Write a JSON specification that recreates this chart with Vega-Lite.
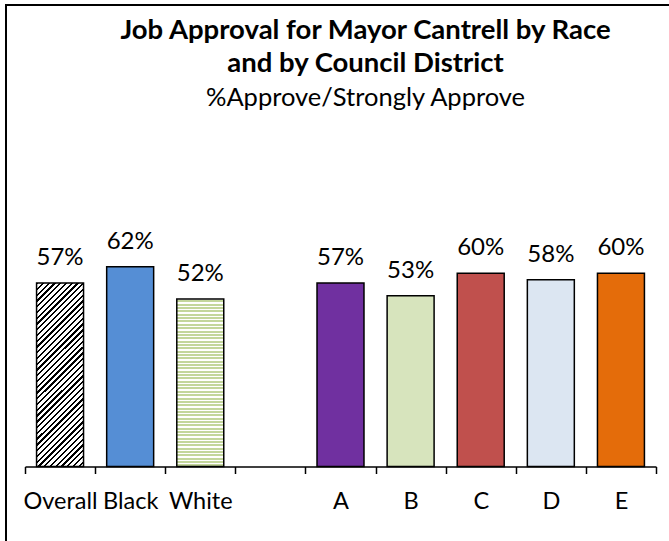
{
  "$schema": "https://vega.github.io/schema/vega-lite/v6.json",
  "width": 665,
  "height": 538,
  "autosize": "none",
  "padding": {"left": 6, "top": 5, "right": -2, "bottom": -2},
  "background": "#ffffff",
  "config": {"view": {"stroke": "#000000", "strokeWidth": 2}, "font": "Lato"},
  "title": {
    "text": ["Job Approval for Mayor Cantrell by Race", "and by Council District"],
    "subtitle": "%Approve/Strongly Approve",
    "anchor": "middle",
    "frame": "group",
    "orient": "top",
    "offset": -106,
    "dx": 27,
    "font": "Lato",
    "fontSize": 27.5,
    "fontWeight": "bold",
    "color": "#000000",
    "lineHeight": 33,
    "subtitleFont": "Lato",
    "subtitleFontSize": 25.5,
    "subtitleColor": "#000000",
    "subtitlePadding": 8
  },
  "data": {
    "values": [
      {"group": "Overall", "pct": 0.57},
      {"group": "Black", "pct": 0.62},
      {"group": "White", "pct": 0.52},
      {"group": "A", "pct": 0.57},
      {"group": "B", "pct": 0.53},
      {"group": "C", "pct": 0.60},
      {"group": "D", "pct": 0.58},
      {"group": "E", "pct": 0.60}
    ]
  },
  "encoding": {
    "x": {
      "field": "group",
      "type": "nominal",
      "scale": {
        "domain": ["Overall", "Black", "White", " ", "A", "B", "C", "D", "E"],
        "range": [19, 650],
        "paddingInner": 0,
        "paddingOuter": 0
      },
      "axis": {
        "title": null,
        "labelAngle": 0,
        "labelFont": "Lato",
        "labelFontSize": 23.5,
        "labelColor": "#000000",
        "labelPadding": 16,
        "labelOverlap": false,
        "labelBound": false,
        "domainColor": "#000000",
        "domainWidth": 1.5,
        "tickColor": "#000000",
        "tickWidth": 1.5,
        "tickSize": 7,
        "tickBand": "extent",
        "offset": -76.5
      }
    },
    "y": {
      "field": "pct",
      "type": "quantitative",
      "scale": {"domain": [-0.2376, 1.4332], "nice": false, "zero": false},
      "axis": null
    }
  },
  "layer": [
    {
      "transform": [{"filter": "datum.group === 'Overall'"}],
      "mark": {
        "type": "bar",
        "width": {"band": 0.67},
        "stroke": "#000000",
        "strokeWidth": 1.5,
        "fill": {
          "gradient": "linear", "x1": 0, "y1": 0, "x2": 0.301, "y2": 1.178,
          "stops": [
            {"offset": 0, "color": "#000"}, {"offset": 0.01, "color": "#000"}, {"offset": 0.01, "color": "#fff"}, {"offset": 0.025, "color": "#fff"},
            {"offset": 0.025, "color": "#000"}, {"offset": 0.035, "color": "#000"}, {"offset": 0.035, "color": "#fff"}, {"offset": 0.05, "color": "#fff"},
            {"offset": 0.05, "color": "#000"}, {"offset": 0.06, "color": "#000"}, {"offset": 0.06, "color": "#fff"}, {"offset": 0.075, "color": "#fff"},
            {"offset": 0.075, "color": "#000"}, {"offset": 0.085, "color": "#000"}, {"offset": 0.085, "color": "#fff"}, {"offset": 0.1, "color": "#fff"},
            {"offset": 0.1, "color": "#000"}, {"offset": 0.11, "color": "#000"}, {"offset": 0.11, "color": "#fff"}, {"offset": 0.125, "color": "#fff"},
            {"offset": 0.125, "color": "#000"}, {"offset": 0.135, "color": "#000"}, {"offset": 0.135, "color": "#fff"}, {"offset": 0.15, "color": "#fff"},
            {"offset": 0.15, "color": "#000"}, {"offset": 0.16, "color": "#000"}, {"offset": 0.16, "color": "#fff"}, {"offset": 0.175, "color": "#fff"},
            {"offset": 0.175, "color": "#000"}, {"offset": 0.185, "color": "#000"}, {"offset": 0.185, "color": "#fff"}, {"offset": 0.2, "color": "#fff"},
            {"offset": 0.2, "color": "#000"}, {"offset": 0.21, "color": "#000"}, {"offset": 0.21, "color": "#fff"}, {"offset": 0.225, "color": "#fff"},
            {"offset": 0.225, "color": "#000"}, {"offset": 0.235, "color": "#000"}, {"offset": 0.235, "color": "#fff"}, {"offset": 0.25, "color": "#fff"},
            {"offset": 0.25, "color": "#000"}, {"offset": 0.26, "color": "#000"}, {"offset": 0.26, "color": "#fff"}, {"offset": 0.275, "color": "#fff"},
            {"offset": 0.275, "color": "#000"}, {"offset": 0.285, "color": "#000"}, {"offset": 0.285, "color": "#fff"}, {"offset": 0.3, "color": "#fff"},
            {"offset": 0.3, "color": "#000"}, {"offset": 0.31, "color": "#000"}, {"offset": 0.31, "color": "#fff"}, {"offset": 0.325, "color": "#fff"},
            {"offset": 0.325, "color": "#000"}, {"offset": 0.335, "color": "#000"}, {"offset": 0.335, "color": "#fff"}, {"offset": 0.35, "color": "#fff"},
            {"offset": 0.35, "color": "#000"}, {"offset": 0.36, "color": "#000"}, {"offset": 0.36, "color": "#fff"}, {"offset": 0.375, "color": "#fff"},
            {"offset": 0.375, "color": "#000"}, {"offset": 0.385, "color": "#000"}, {"offset": 0.385, "color": "#fff"}, {"offset": 0.4, "color": "#fff"},
            {"offset": 0.4, "color": "#000"}, {"offset": 0.41, "color": "#000"}, {"offset": 0.41, "color": "#fff"}, {"offset": 0.425, "color": "#fff"},
            {"offset": 0.425, "color": "#000"}, {"offset": 0.435, "color": "#000"}, {"offset": 0.435, "color": "#fff"}, {"offset": 0.45, "color": "#fff"},
            {"offset": 0.45, "color": "#000"}, {"offset": 0.46, "color": "#000"}, {"offset": 0.46, "color": "#fff"}, {"offset": 0.475, "color": "#fff"},
            {"offset": 0.475, "color": "#000"}, {"offset": 0.485, "color": "#000"}, {"offset": 0.485, "color": "#fff"}, {"offset": 0.5, "color": "#fff"},
            {"offset": 0.5, "color": "#000"}, {"offset": 0.51, "color": "#000"}, {"offset": 0.51, "color": "#fff"}, {"offset": 0.525, "color": "#fff"},
            {"offset": 0.525, "color": "#000"}, {"offset": 0.535, "color": "#000"}, {"offset": 0.535, "color": "#fff"}, {"offset": 0.55, "color": "#fff"},
            {"offset": 0.55, "color": "#000"}, {"offset": 0.56, "color": "#000"}, {"offset": 0.56, "color": "#fff"}, {"offset": 0.575, "color": "#fff"},
            {"offset": 0.575, "color": "#000"}, {"offset": 0.585, "color": "#000"}, {"offset": 0.585, "color": "#fff"}, {"offset": 0.6, "color": "#fff"},
            {"offset": 0.6, "color": "#000"}, {"offset": 0.61, "color": "#000"}, {"offset": 0.61, "color": "#fff"}, {"offset": 0.625, "color": "#fff"},
            {"offset": 0.625, "color": "#000"}, {"offset": 0.635, "color": "#000"}, {"offset": 0.635, "color": "#fff"}, {"offset": 0.65, "color": "#fff"},
            {"offset": 0.65, "color": "#000"}, {"offset": 0.66, "color": "#000"}, {"offset": 0.66, "color": "#fff"}, {"offset": 0.675, "color": "#fff"},
            {"offset": 0.675, "color": "#000"}, {"offset": 0.685, "color": "#000"}, {"offset": 0.685, "color": "#fff"}, {"offset": 0.7, "color": "#fff"},
            {"offset": 0.7, "color": "#000"}, {"offset": 0.71, "color": "#000"}, {"offset": 0.71, "color": "#fff"}, {"offset": 0.725, "color": "#fff"},
            {"offset": 0.725, "color": "#000"}, {"offset": 0.735, "color": "#000"}, {"offset": 0.735, "color": "#fff"}, {"offset": 0.75, "color": "#fff"},
            {"offset": 0.75, "color": "#000"}, {"offset": 0.76, "color": "#000"}, {"offset": 0.76, "color": "#fff"}, {"offset": 0.775, "color": "#fff"},
            {"offset": 0.775, "color": "#000"}, {"offset": 0.785, "color": "#000"}, {"offset": 0.785, "color": "#fff"}, {"offset": 0.8, "color": "#fff"},
            {"offset": 0.8, "color": "#000"}, {"offset": 0.81, "color": "#000"}, {"offset": 0.81, "color": "#fff"}, {"offset": 0.825, "color": "#fff"},
            {"offset": 0.825, "color": "#000"}, {"offset": 0.835, "color": "#000"}, {"offset": 0.835, "color": "#fff"}, {"offset": 0.85, "color": "#fff"},
            {"offset": 0.85, "color": "#000"}, {"offset": 0.86, "color": "#000"}, {"offset": 0.86, "color": "#fff"}, {"offset": 0.875, "color": "#fff"},
            {"offset": 0.875, "color": "#000"}, {"offset": 0.885, "color": "#000"}, {"offset": 0.885, "color": "#fff"}, {"offset": 0.9, "color": "#fff"},
            {"offset": 0.9, "color": "#000"}, {"offset": 0.91, "color": "#000"}, {"offset": 0.91, "color": "#fff"}, {"offset": 0.925, "color": "#fff"},
            {"offset": 0.925, "color": "#000"}, {"offset": 0.935, "color": "#000"}, {"offset": 0.935, "color": "#fff"}, {"offset": 0.95, "color": "#fff"},
            {"offset": 0.95, "color": "#000"}, {"offset": 0.96, "color": "#000"}, {"offset": 0.96, "color": "#fff"}, {"offset": 0.975, "color": "#fff"},
            {"offset": 0.975, "color": "#000"}, {"offset": 0.985, "color": "#000"}, {"offset": 0.985, "color": "#fff"}, {"offset": 1, "color": "#fff"}
          ]
        }
      },
      "encoding": {"y2": {"datum": 0}}
    },
    {
      "transform": [{"filter": "datum.group === 'White'"}],
      "mark": {
        "type": "bar",
        "width": {"band": 0.67},
        "stroke": "#000000",
        "strokeWidth": 1.5,
        "fill": {
          "gradient": "linear", "x1": 0, "y1": 0, "x2": 0, "y2": 1,
          "stops": [
            {"offset": 0, "color": "#fff"}, {"offset": 0.008, "color": "#fff"}, {"offset": 0.008, "color": "#c3d69b"}, {"offset": 0.02, "color": "#c3d69b"},
            {"offset": 0.02, "color": "#fff"}, {"offset": 0.028, "color": "#fff"}, {"offset": 0.028, "color": "#c3d69b"}, {"offset": 0.04, "color": "#c3d69b"},
            {"offset": 0.04, "color": "#fff"}, {"offset": 0.048, "color": "#fff"}, {"offset": 0.048, "color": "#c3d69b"}, {"offset": 0.06, "color": "#c3d69b"},
            {"offset": 0.06, "color": "#fff"}, {"offset": 0.068, "color": "#fff"}, {"offset": 0.068, "color": "#c3d69b"}, {"offset": 0.08, "color": "#c3d69b"},
            {"offset": 0.08, "color": "#fff"}, {"offset": 0.088, "color": "#fff"}, {"offset": 0.088, "color": "#c3d69b"}, {"offset": 0.1, "color": "#c3d69b"},
            {"offset": 0.1, "color": "#fff"}, {"offset": 0.108, "color": "#fff"}, {"offset": 0.108, "color": "#c3d69b"}, {"offset": 0.12, "color": "#c3d69b"},
            {"offset": 0.12, "color": "#fff"}, {"offset": 0.128, "color": "#fff"}, {"offset": 0.128, "color": "#c3d69b"}, {"offset": 0.14, "color": "#c3d69b"},
            {"offset": 0.14, "color": "#fff"}, {"offset": 0.148, "color": "#fff"}, {"offset": 0.148, "color": "#c3d69b"}, {"offset": 0.16, "color": "#c3d69b"},
            {"offset": 0.16, "color": "#fff"}, {"offset": 0.168, "color": "#fff"}, {"offset": 0.168, "color": "#c3d69b"}, {"offset": 0.18, "color": "#c3d69b"},
            {"offset": 0.18, "color": "#fff"}, {"offset": 0.188, "color": "#fff"}, {"offset": 0.188, "color": "#c3d69b"}, {"offset": 0.2, "color": "#c3d69b"},
            {"offset": 0.2, "color": "#fff"}, {"offset": 0.208, "color": "#fff"}, {"offset": 0.208, "color": "#c3d69b"}, {"offset": 0.22, "color": "#c3d69b"},
            {"offset": 0.22, "color": "#fff"}, {"offset": 0.228, "color": "#fff"}, {"offset": 0.228, "color": "#c3d69b"}, {"offset": 0.24, "color": "#c3d69b"},
            {"offset": 0.24, "color": "#fff"}, {"offset": 0.248, "color": "#fff"}, {"offset": 0.248, "color": "#c3d69b"}, {"offset": 0.26, "color": "#c3d69b"},
            {"offset": 0.26, "color": "#fff"}, {"offset": 0.268, "color": "#fff"}, {"offset": 0.268, "color": "#c3d69b"}, {"offset": 0.28, "color": "#c3d69b"},
            {"offset": 0.28, "color": "#fff"}, {"offset": 0.288, "color": "#fff"}, {"offset": 0.288, "color": "#c3d69b"}, {"offset": 0.3, "color": "#c3d69b"},
            {"offset": 0.3, "color": "#fff"}, {"offset": 0.308, "color": "#fff"}, {"offset": 0.308, "color": "#c3d69b"}, {"offset": 0.32, "color": "#c3d69b"},
            {"offset": 0.32, "color": "#fff"}, {"offset": 0.328, "color": "#fff"}, {"offset": 0.328, "color": "#c3d69b"}, {"offset": 0.34, "color": "#c3d69b"},
            {"offset": 0.34, "color": "#fff"}, {"offset": 0.348, "color": "#fff"}, {"offset": 0.348, "color": "#c3d69b"}, {"offset": 0.36, "color": "#c3d69b"},
            {"offset": 0.36, "color": "#fff"}, {"offset": 0.368, "color": "#fff"}, {"offset": 0.368, "color": "#c3d69b"}, {"offset": 0.38, "color": "#c3d69b"},
            {"offset": 0.38, "color": "#fff"}, {"offset": 0.388, "color": "#fff"}, {"offset": 0.388, "color": "#c3d69b"}, {"offset": 0.4, "color": "#c3d69b"},
            {"offset": 0.4, "color": "#fff"}, {"offset": 0.408, "color": "#fff"}, {"offset": 0.408, "color": "#c3d69b"}, {"offset": 0.42, "color": "#c3d69b"},
            {"offset": 0.42, "color": "#fff"}, {"offset": 0.428, "color": "#fff"}, {"offset": 0.428, "color": "#c3d69b"}, {"offset": 0.44, "color": "#c3d69b"},
            {"offset": 0.44, "color": "#fff"}, {"offset": 0.448, "color": "#fff"}, {"offset": 0.448, "color": "#c3d69b"}, {"offset": 0.46, "color": "#c3d69b"},
            {"offset": 0.46, "color": "#fff"}, {"offset": 0.468, "color": "#fff"}, {"offset": 0.468, "color": "#c3d69b"}, {"offset": 0.48, "color": "#c3d69b"},
            {"offset": 0.48, "color": "#fff"}, {"offset": 0.488, "color": "#fff"}, {"offset": 0.488, "color": "#c3d69b"}, {"offset": 0.5, "color": "#c3d69b"},
            {"offset": 0.5, "color": "#fff"}, {"offset": 0.508, "color": "#fff"}, {"offset": 0.508, "color": "#c3d69b"}, {"offset": 0.52, "color": "#c3d69b"},
            {"offset": 0.52, "color": "#fff"}, {"offset": 0.528, "color": "#fff"}, {"offset": 0.528, "color": "#c3d69b"}, {"offset": 0.54, "color": "#c3d69b"},
            {"offset": 0.54, "color": "#fff"}, {"offset": 0.548, "color": "#fff"}, {"offset": 0.548, "color": "#c3d69b"}, {"offset": 0.56, "color": "#c3d69b"},
            {"offset": 0.56, "color": "#fff"}, {"offset": 0.568, "color": "#fff"}, {"offset": 0.568, "color": "#c3d69b"}, {"offset": 0.58, "color": "#c3d69b"},
            {"offset": 0.58, "color": "#fff"}, {"offset": 0.588, "color": "#fff"}, {"offset": 0.588, "color": "#c3d69b"}, {"offset": 0.6, "color": "#c3d69b"},
            {"offset": 0.6, "color": "#fff"}, {"offset": 0.608, "color": "#fff"}, {"offset": 0.608, "color": "#c3d69b"}, {"offset": 0.62, "color": "#c3d69b"},
            {"offset": 0.62, "color": "#fff"}, {"offset": 0.628, "color": "#fff"}, {"offset": 0.628, "color": "#c3d69b"}, {"offset": 0.64, "color": "#c3d69b"},
            {"offset": 0.64, "color": "#fff"}, {"offset": 0.648, "color": "#fff"}, {"offset": 0.648, "color": "#c3d69b"}, {"offset": 0.66, "color": "#c3d69b"},
            {"offset": 0.66, "color": "#fff"}, {"offset": 0.668, "color": "#fff"}, {"offset": 0.668, "color": "#c3d69b"}, {"offset": 0.68, "color": "#c3d69b"},
            {"offset": 0.68, "color": "#fff"}, {"offset": 0.688, "color": "#fff"}, {"offset": 0.688, "color": "#c3d69b"}, {"offset": 0.7, "color": "#c3d69b"},
            {"offset": 0.7, "color": "#fff"}, {"offset": 0.708, "color": "#fff"}, {"offset": 0.708, "color": "#c3d69b"}, {"offset": 0.72, "color": "#c3d69b"},
            {"offset": 0.72, "color": "#fff"}, {"offset": 0.728, "color": "#fff"}, {"offset": 0.728, "color": "#c3d69b"}, {"offset": 0.74, "color": "#c3d69b"},
            {"offset": 0.74, "color": "#fff"}, {"offset": 0.748, "color": "#fff"}, {"offset": 0.748, "color": "#c3d69b"}, {"offset": 0.76, "color": "#c3d69b"},
            {"offset": 0.76, "color": "#fff"}, {"offset": 0.768, "color": "#fff"}, {"offset": 0.768, "color": "#c3d69b"}, {"offset": 0.78, "color": "#c3d69b"},
            {"offset": 0.78, "color": "#fff"}, {"offset": 0.788, "color": "#fff"}, {"offset": 0.788, "color": "#c3d69b"}, {"offset": 0.8, "color": "#c3d69b"},
            {"offset": 0.8, "color": "#fff"}, {"offset": 0.808, "color": "#fff"}, {"offset": 0.808, "color": "#c3d69b"}, {"offset": 0.82, "color": "#c3d69b"},
            {"offset": 0.82, "color": "#fff"}, {"offset": 0.828, "color": "#fff"}, {"offset": 0.828, "color": "#c3d69b"}, {"offset": 0.84, "color": "#c3d69b"},
            {"offset": 0.84, "color": "#fff"}, {"offset": 0.848, "color": "#fff"}, {"offset": 0.848, "color": "#c3d69b"}, {"offset": 0.86, "color": "#c3d69b"},
            {"offset": 0.86, "color": "#fff"}, {"offset": 0.868, "color": "#fff"}, {"offset": 0.868, "color": "#c3d69b"}, {"offset": 0.88, "color": "#c3d69b"},
            {"offset": 0.88, "color": "#fff"}, {"offset": 0.888, "color": "#fff"}, {"offset": 0.888, "color": "#c3d69b"}, {"offset": 0.9, "color": "#c3d69b"},
            {"offset": 0.9, "color": "#fff"}, {"offset": 0.908, "color": "#fff"}, {"offset": 0.908, "color": "#c3d69b"}, {"offset": 0.92, "color": "#c3d69b"},
            {"offset": 0.92, "color": "#fff"}, {"offset": 0.928, "color": "#fff"}, {"offset": 0.928, "color": "#c3d69b"}, {"offset": 0.94, "color": "#c3d69b"},
            {"offset": 0.94, "color": "#fff"}, {"offset": 0.948, "color": "#fff"}, {"offset": 0.948, "color": "#c3d69b"}, {"offset": 0.96, "color": "#c3d69b"},
            {"offset": 0.96, "color": "#fff"}, {"offset": 0.968, "color": "#fff"}, {"offset": 0.968, "color": "#c3d69b"}, {"offset": 0.98, "color": "#c3d69b"},
            {"offset": 0.98, "color": "#fff"}, {"offset": 0.988, "color": "#fff"}, {"offset": 0.988, "color": "#c3d69b"}, {"offset": 1, "color": "#c3d69b"}
          ]
        }
      },
      "encoding": {"y2": {"datum": 0}}
    },
    {
      "transform": [{"filter": "datum.group !== 'Overall' && datum.group !== 'White'"}],
      "mark": {"type": "bar", "width": {"band": 0.67}, "stroke": "#000000", "strokeWidth": 1.5},
      "encoding": {
        "y2": {"datum": 0},
        "fill": {
          "field": "group",
          "type": "nominal",
          "scale": {
            "domain": ["Black", "A", "B", "C", "D", "E"],
            "range": ["#558ed5", "#7030a0", "#d7e4bd", "#c0504d", "#dce6f2", "#e46c0a"]
          },
          "legend": null
        }
      }
    },
    {
      "mark": {"type": "text", "baseline": "alphabetic", "dy": -18, "font": "Lato", "fontSize": 24, "color": "#000000"},
      "encoding": {"text": {"field": "pct", "type": "quantitative", "format": ".0%"}}
    }
  ]
}
